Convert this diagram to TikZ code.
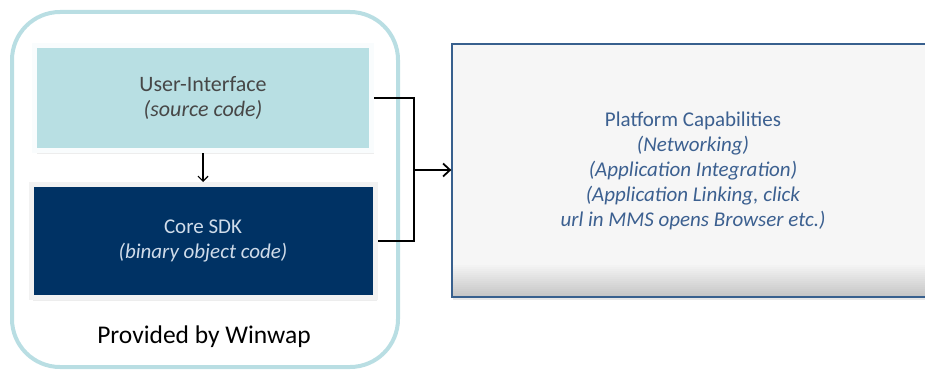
\documentclass[tikz,border=0pt]{standalone}
\usepackage{fontspec}
\setmainfont{Carlito}
\usetikzlibrary{arrows.meta, positioning, shadows}

\definecolor{uiblue}{HTML}{B8DFE3}
\definecolor{sdknavy}{HTML}{003264}
\definecolor{sdktext}{HTML}{D0DCEA}
\definecolor{platedge}{HTML}{38608E}
\definecolor{plattext}{HTML}{3C6090}
\definecolor{platfill}{HTML}{F6F6F6}
\definecolor{frameblue}{HTML}{B9DEE3}

\begin{document}
\begin{tikzpicture}[x=1pt, y=1pt,
    block/.style={rectangle, inner sep=0pt, align=center,
        font=\fontsize{21}{25}\selectfont},
    glowbox/.style={block, draw=#1, line width=5pt,
        general shadow={shadow scale=1.01, shadow xshift=1pt, shadow yshift=-1.5pt,
            fill=black, opacity=.14},
        drop shadow={shadow xshift=2pt, shadow yshift=-3pt, opacity=.14}},
    wire/.style={line width=1.2pt}]
    \clip (0,0) rectangle (925,370);

    % frame round the parts from Winwap
    \draw [frameblue, line width=4pt, rounded corners=48pt] (12,3) rectangle (398,358);

    \node (ui) [glowbox=white!92!uiblue, fill=uiblue, text=black!72, minimum width=337pt,
        minimum height=105pt, font=\fontsize{22}{25}\selectfont]
        at (203,272) {User-Interface\\ \textit{(source code)}};
    \node (sdk) [glowbox=white!95!black, fill=sdknavy, text=sdktext, minimum width=344pt,
        minimum height=113pt, below=29pt of ui] {Core SDK\\ \textit{(binary object code)}};
    \node (platform) [block, draw=platedge, line width=1.3pt, fill=platfill, text=plattext,
        minimum width=482pt, minimum height=253pt,
        drop shadow={shadow xshift=1pt, shadow yshift=-2.5pt, opacity=.18},
        path picture={\foreach \h in {2,4,...,32}
            \fill [black, opacity=.011] (path picture bounding box.south west)
                rectangle ([yshift=\h pt]path picture bounding box.south east);}]
        at (693,199.5) {Platform Capabilities\\ \textit{(Networking)}\\
        \textit{(Application Integration)}\\ \textit{(Application Linking, click}\\
        \textit{url in MMS opens Browser etc.)}};
    \node (winwap) [font=\fontsize{25.5}{29}\selectfont] at (204,33) {Provided by Winwap};

    \coordinate (join) at (414,200);

    \draw [wire, -{Straight Barb[length=5pt, width=10pt]}] (ui) -- (sdk);
    \draw [wire] (ui.east) -| (join) |- (sdk.east);
    \draw [line width=1.8pt, -{Straight Barb[length=7pt, width=13pt]}] (join) -- (platform.west |- join);
\end{tikzpicture}
\end{document}
